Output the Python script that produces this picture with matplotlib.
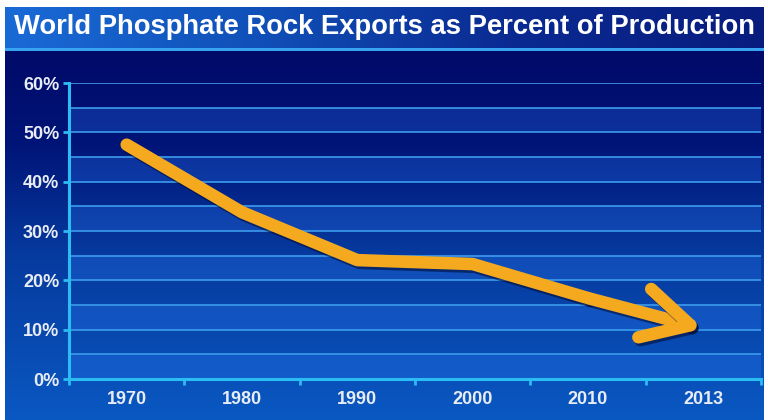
import numpy as np
import matplotlib
matplotlib.use("Agg")
import matplotlib.pyplot as plt
from matplotlib import font_manager
from matplotlib.colors import LinearSegmentedColormap
from matplotlib.patches import FancyArrowPatch
import matplotlib.patheffects as pe
from matplotlib.ticker import MultipleLocator, FixedLocator, PercentFormatter

# ---- data ----
years = ["1970", "1980", "1990", "2000", "2010", "2013"]
export_pct = [47.5, 33.8, 24.1, 23.3, 16.4, 10.2]
y_ticks = [0, 10, 20, 30, 40, 50, 60]
title = "World Phosphate Rock Exports as Percent of Production"

names = {f.name for f in font_manager.fontManager.ttflist}
title_font = ["Liberation Sans Narrow"] if "Liberation Sans Narrow" in names else ["Liberation Sans"]
title_font = title_font + ["DejaVu Sans"]
tick_font = ["Liberation Sans", "DejaVu Sans"]

W, H = 768, 420
fig = plt.figure(figsize=(W / 100, H / 100), dpi=100, facecolor="white")

# ---- background (pixel coordinates) ----
bg = fig.add_axes([0, 0, 1, 1], zorder=-10)
bg.set_xlim(0, W)
bg.set_ylim(H, 0)
bg.axis("off")

banner_cmap = LinearSegmentedColormap.from_list("banner", ["#1a6ad6", "#1050b8", "#0a2a92", "#081c7e"])
grad_h = np.linspace(0, 1, 256).reshape(1, -1)
bg.imshow(grad_h, cmap=banner_cmap, extent=[5, 764, 48, 7], aspect="auto", interpolation="bicubic")

main_cmap = LinearSegmentedColormap.from_list(
    "main", [(0, "#000a68"), (0.25, "#001478"), (0.55, "#063a9e"), (1.0, "#0a58c2")])
grad_v = np.linspace(0, 1, 256).reshape(-1, 1)
bg.imshow(grad_v, cmap=main_cmap, extent=[5, 764, 420, 50], aspect="auto", interpolation="bicubic")
bg.fill_between([5, 764], 48, 51, color="#36a4f0", lw=0)

t = bg.text(14, 27, title, color="white", fontsize=21, fontweight="bold",
            family=title_font, ha="left", va="center")
# fit the title into the banner width (about 738 px)
renderer = fig.canvas.get_renderer()
tw = t.get_window_extent(renderer=renderer).width
if tw > 738:
    t.set_fontsize(21 * 738 / tw)

# ---- plot axes ----
ax = fig.add_axes([69 / W, (H - 379) / H, (761 - 69) / W, (379 - 83) / H])
ax.patch.set_alpha(0)
ax.set_xlim(-0.5, len(years) - 0.5)
ax.set_ylim(0, 60)

# alternating light bands
for lo in range(0, 60, 10):
    ax.axhspan(lo, lo + 5, color="#2f80ff", alpha=0.26, lw=0, zorder=0)

grid_color = "#3c9cec"
ax.yaxis.set_major_locator(FixedLocator(y_ticks))
ax.yaxis.set_minor_locator(MultipleLocator(5))
ax.yaxis.set_major_formatter(PercentFormatter(decimals=0))
ax.grid(True, axis="y", which="both", color=grid_color, lw=1.2, zorder=1)

x = np.arange(len(years))
ax.set_xticks(x)
ax.set_xticklabels(years)
ax.xaxis.set_minor_locator(FixedLocator(np.arange(-0.5, len(years), 1.0)))

spine_c = "#2cbcf4"
for s in ["top", "right"]:
    ax.spines[s].set_visible(False)
for s in ["left", "bottom"]:
    ax.spines[s].set_color(spine_c)
    ax.spines[s].set_linewidth(2.2)
    ax.spines[s].set_zorder(3)

ax.tick_params(axis="y", which="major", length=4, width=2, color=spine_c, pad=3,
               labelcolor="#e8ecf5", labelsize=13)
ax.tick_params(axis="y", which="minor", length=0)
ax.tick_params(axis="x", which="major", length=0, pad=9, labelcolor="#e8ecf5", labelsize=13)
ax.tick_params(axis="x", which="minor", length=4, width=2, color=spine_c)
for lbl in ax.get_xticklabels() + ax.get_yticklabels():
    lbl.set_fontweight("bold")
    lbl.set_family(tick_font)

orange = "#f5a91e"
shadow = [pe.SimpleLineShadow(offset=(1.5, -2), shadow_color="#000830", alpha=0.55), pe.Normal()]
ax.plot(x[:-1], export_pct[:-1], color=orange, lw=9, solid_capstyle="round",
        solid_joinstyle="round", zorder=5, path_effects=shadow)

arrow = FancyArrowPatch((x[-2], export_pct[-2]), (x[-1], export_pct[-1]),
                        arrowstyle="->,head_length=34,head_width=18", mutation_scale=1,
                        color=orange, lw=9, capstyle="round", joinstyle="round",
                        shrinkA=0, shrinkB=0, zorder=5, path_effects=shadow)
ax.add_patch(arrow)

fig.savefig("out.png", dpi=100, facecolor="white")
